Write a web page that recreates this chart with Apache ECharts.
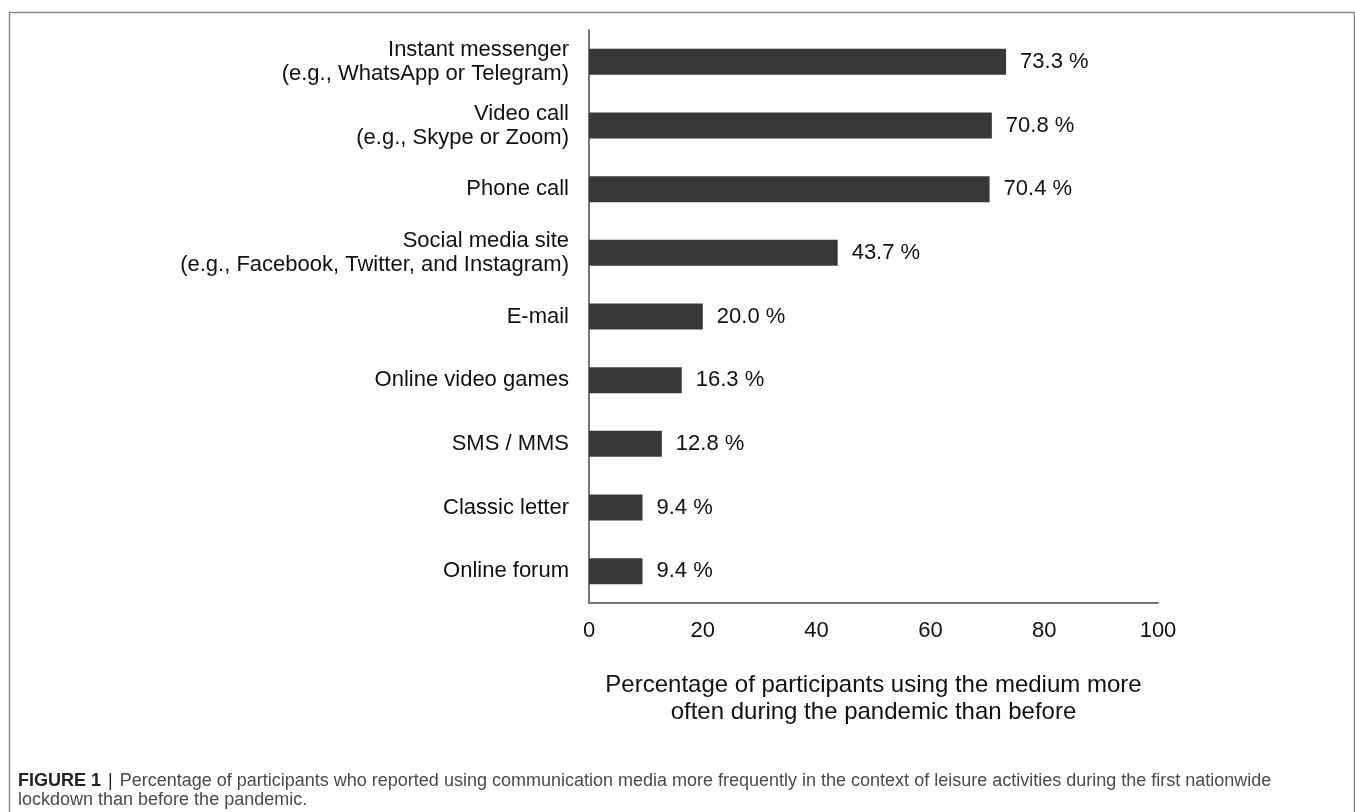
<!DOCTYPE html>
<html>
<head>
<meta charset="utf-8">
<script src="https://cdn.jsdelivr.net/npm/echarts@6/dist/echarts.min.js"></script>
<style>
  html, body { margin: 0; padding: 0; background: #fff; }
  #main { width: 1355px; height: 812px; }
</style>
</head>
<body>
<div id="main"></div>
<script>
  // categories, top to bottom
  const media = [
    'Instant messenger\n(e.g., WhatsApp or Telegram)',
    'Video call\n(e.g., Skype or Zoom)',
    'Phone call',
    'Social media site\n(e.g., Facebook, Twitter, and Instagram)',
    'E-mail',
    'Online video games',
    'SMS / MMS',
    'Classic letter',
    'Online forum',
  ];
  // percent of participants using the medium more often
  const percentMore = [73.3, 70.8, 70.4, 43.7, 20.0, 16.3, 12.8, 9.4, 9.4];
  const xTicks = [0, 20, 40, 60, 80, 100];

  const font = 'Liberation Sans, Arial, Helvetica, sans-serif';
  const chart = echarts.init(document.getElementById('main'));

  chart.setOption({
    backgroundColor: '#fff',
    animation: false,
    textStyle: { fontFamily: font },
    grid: {
      left: 589,
      right: 197,
      top: 30,
      bottom: 209,
    },
    xAxis: {
      type: 'value',
      min: xTicks[0],
      max: xTicks[xTicks.length - 1],
      interval: 20,
      name: 'Percentage of participants using the medium more\noften during the pandemic than before',
      nameLocation: 'middle',
      nameGap: 69,
      nameTextStyle: {
        color: '#111',
        fontSize: 24,
        lineHeight: 27,
        fontFamily: font,
      },
      axisLine: { show: true, lineStyle: { color: '#777', width: 2 } },
      axisTick: { show: false },
      splitLine: { show: false },
      axisLabel: {
        color: '#111',
        fontSize: 22,
        margin: 17,
        fontFamily: font,
      },
    },
    yAxis: {
      type: 'category',
      inverse: true,
      data: media,
      axisLine: { show: true, lineStyle: { color: '#777', width: 2 } },
      axisTick: { show: false },
      axisLabel: {
        color: '#111',
        fontSize: 22,
        lineHeight: 24,
        margin: 20,
        align: 'right',
        fontFamily: font,
      },
    },
    series: [{
      type: 'bar',
      data: percentMore,
      barWidth: 26,
      itemStyle: { color: '#383838' },
      label: {
        show: true,
        position: 'right',
        distance: 14,
        color: '#111',
        fontSize: 22,
        fontFamily: font,
        formatter: p => p.value.toFixed(1) + ' %',
      },
    }],
    graphic: [
      {
        type: 'rect',
        shape: { x: 9.5, y: 12.5, width: 1345, height: 820 },
        style: { fill: 'none', stroke: '#8a8a8a', lineWidth: 1.5 },
        silent: true,
      },
      {
        type: 'text',
        left: 18,
        top: 772,
        style: {
          text: '{b|FIGURE 1} {s||} Percentage of participants who reported using communication media more frequently in the context of leisure activities during the first nationwide\nlockdown than before the pandemic.',
          fill: '#4a4a4a',
          font: '18px ' + font,
          lineHeight: 19,
          rich: {
            b: { fontWeight: 'bold', fill: '#222', fontSize: 18, fontFamily: font },
            s: { fill: '#222', fontSize: 18, fontFamily: font, padding: [0, 2] },
          },
        },
      },
    ],
  });
</script>
</body>
</html>
